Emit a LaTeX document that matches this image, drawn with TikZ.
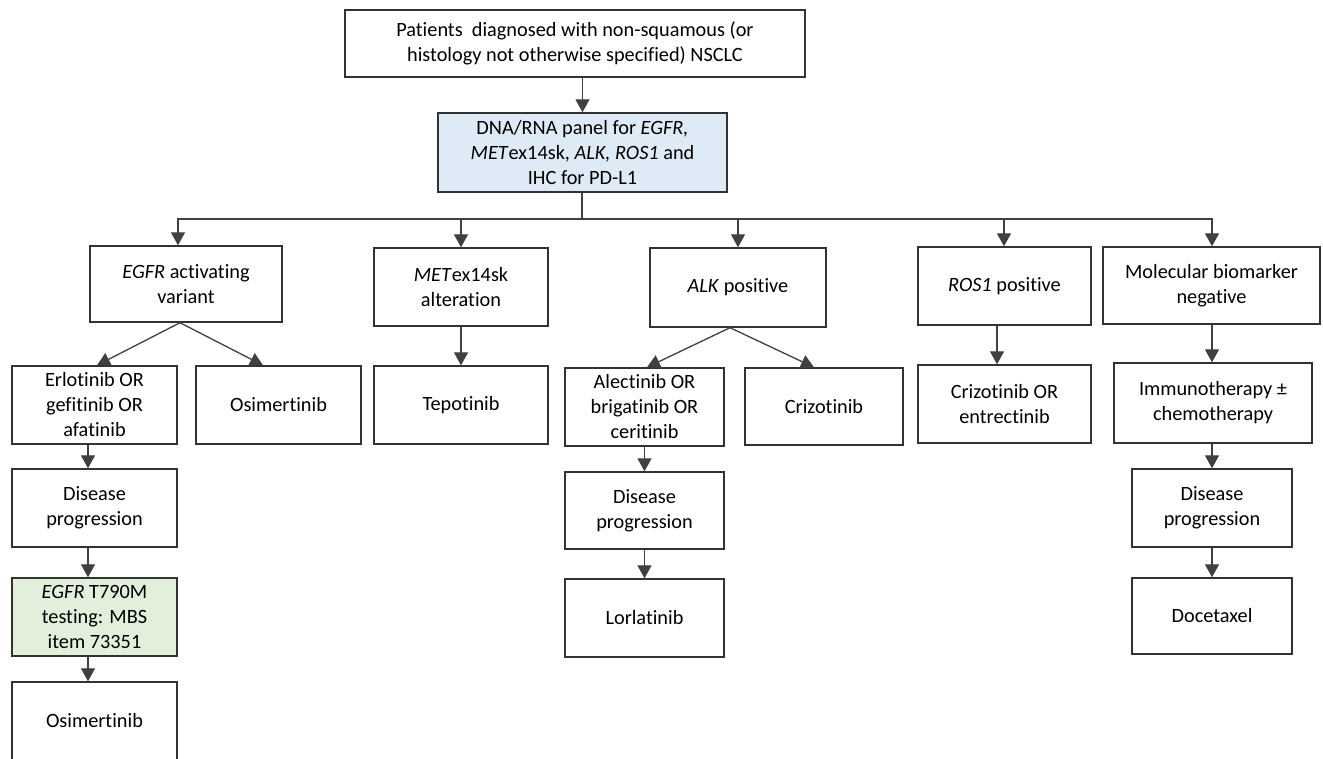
\documentclass[tikz,border=0pt]{standalone}
\usepackage{fontspec}
\setmainfont[Ligatures=NoCommon,RawFeature=-liga]{Carlito}
\usetikzlibrary{arrows.meta}
\definecolor{bluefill}{HTML}{DEEBF7}
\definecolor{greenfill}{HTML}{E2EFDA}
\begin{document}
\begin{tikzpicture}[x=1pt,y=-1pt,
  box/.style={draw=black!80, line width=1.4pt, rectangle, inner sep=0pt, align=center,
    font=\fontsize{20.3}{25}\selectfont},
  arr/.style={draw=black!75, line width=1.3pt, -{Triangle[width=14pt,length=13pt]}},
  ln/.style={draw=black!75, line width=1.3pt}]
\useasboundingbox (0,0) rectangle (1323,758);
\clip (0,0) rectangle (1323,758);
\fill[white] (0,0) rectangle (1323,758);

% top
\node[box, minimum width=460pt, minimum height=67pt] (top) at (575,43.5)
  {Patients\ \ diagnosed with non-squamous (or\\histology not otherwise specified) NSCLC};
\node[box, fill=bluefill, minimum width=289pt, minimum height=79pt] (panel) at (582.5,152.5)
  {DNA/RNA panel for \textit{EGFR,}\\\textit{MET}ex14sk, \textit{ALK, ROS1} and\\IHC for PD-L1};

% row 1
\node[box, minimum width=192pt, minimum height=76pt] (egfr) at (186,284) {\textit{EGFR} activating\\variant};
\node[box, minimum width=174pt, minimum height=78pt] (met) at (461,287) {\textit{MET}ex14sk\\alteration};
\node[box, minimum width=176pt, minimum height=79pt] (alk) at (738,287.5) {\textit{ALK} positive};
\node[box, minimum width=173pt, minimum height=78pt] (ros) at (1004.5,286) {\textit{ROS1} positive};
\node[box, minimum width=217pt, minimum height=77pt] (mol) at (1211.5,285.5) {Molecular biomarker\\negative};

% row 2
\node[box, minimum width=165pt, minimum height=78pt] (erl) at (94.5,405) {Erlotinib OR\\gefitinib OR\\afatinib};
\node[box, minimum width=165pt, minimum height=78pt] (osi1) at (278.5,405) {Osimertinib};
\node[box, minimum width=174pt, minimum height=78pt] (tepo) at (461,405) {Tepotinib};
\node[box, minimum width=159pt, minimum height=78pt] (alec) at (644.5,407) {Alectinib OR\\brigatinib OR\\ceritinib};
\node[box, minimum width=158pt, minimum height=77pt] (criz) at (824,406.5) {Crizotinib};
\node[box, minimum width=173pt, minimum height=78pt] (crent) at (1004.5,404) {Crizotinib OR\\entrectinib};
\node[box, minimum width=198pt, minimum height=80pt] (immuno) at (1213,403) {Immunotherapy ±\\chemotherapy};

% row 3+
\node[box, minimum width=165pt, minimum height=78pt] (dp1) at (94.5,508) {Disease\\progression};
\node[box, fill=greenfill, minimum width=165pt, minimum height=78pt] (t790) at (94.5,617) {\textit{EGFR} T790M\\testing: MBS\\item 73351};
\node[box, minimum width=165pt, minimum height=78pt] (osi2) at (94.5,721) {Osimertinib};
\node[box, minimum width=159pt, minimum height=77pt] (dp2) at (644.5,510.5) {Disease\\progression};
\node[box, minimum width=159pt, minimum height=78pt] (lorl) at (644.5,618) {Lorlatinib};
\node[box, minimum width=160pt, minimum height=78pt] (dp3) at (1212,508) {Disease\\progression};
\node[box, minimum width=160pt, minimum height=76pt] (doce) at (1212,616) {Docetaxel};

% connectors
\coordinate (j) at (582,219);
\draw[arr] (top.south -| panel.north) -- (panel.north);
\draw[ln] (panel.south -| j) -- (j);
\draw[arr] (j) -| ([xshift=-8pt]egfr.north);
\draw[arr] (j) -| (met.north);
\draw[arr] (j) -| (alk.north);
\draw[arr] (j) -| ([xshift=-0.5pt]ros.north);
\draw[arr] (j) -| ([xshift=0.5pt]mol.north);

\draw[arr] ([xshift=-6pt]egfr.south) -- ([xshift=2.5pt]erl.north);
\draw[arr] ([xshift=-6pt]egfr.south) -- ([xshift=-15.5pt]osi1.north);
\draw[arr] (met.south) -- (tepo.north);
\draw[arr] ([xshift=-8pt]alk.south) -- ([xshift=2.5pt]alec.north);
\draw[arr] ([xshift=-8pt]alk.south) -- ([xshift=-10pt]criz.north);
\draw[arr] ([xshift=-7.5pt]ros.south) -- ([xshift=-7.5pt]crent.north);
\draw[arr] ([xshift=0.5pt]mol.south) -- ([xshift=-1pt]immuno.north);

\draw[arr] ([xshift=-6.5pt]erl.south) -- ([xshift=-6.5pt]dp1.north);
\draw[arr] ([xshift=-6.5pt]dp1.south) -- ([xshift=-6.5pt]t790.north);
\draw[arr] ([xshift=-6.5pt]t790.south) -- ([xshift=-6.5pt]osi2.north);
\draw[arr] (alec.south) -- (dp2.north);
\draw[arr] (dp2.south) -- (lorl.north);
\draw[arr] ([xshift=-1pt]immuno.south) -- (dp3.north);
\draw[arr] (dp3.south) -- (doce.north);
\end{tikzpicture}
\end{document}
